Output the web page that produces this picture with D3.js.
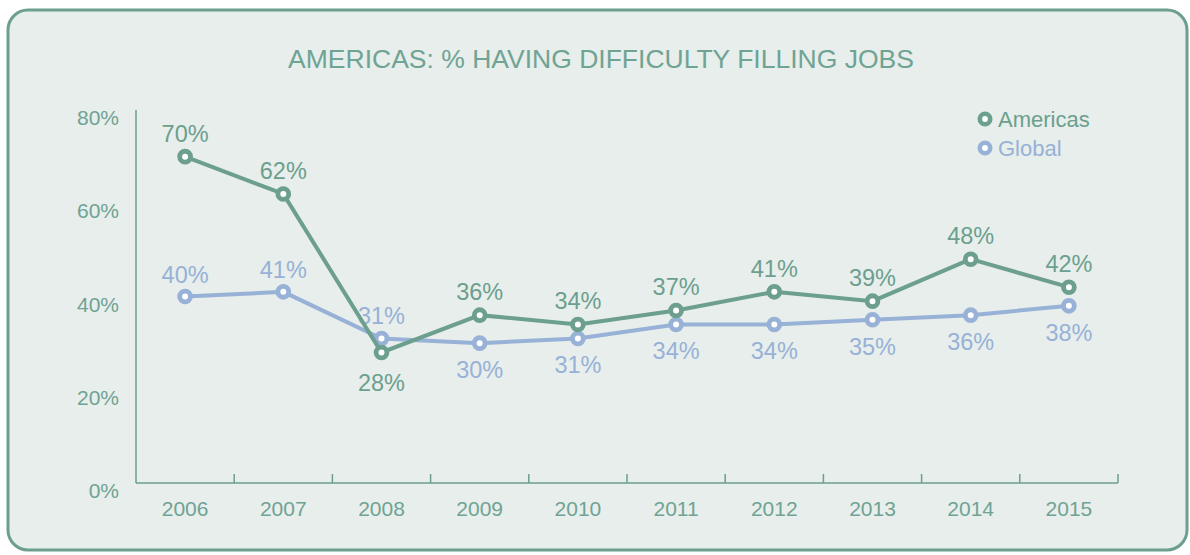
<!DOCTYPE html>
<html>
<head>
<meta charset="utf-8">
<script src="https://cdnjs.cloudflare.com/ajax/libs/d3/7.8.5/d3.min.js"></script>
<style>
  body { margin: 0; background: #ffffff; }
  svg { display: block; font-family: "Liberation Sans", Arial, sans-serif; }
</style>
</head>
<body>
<svg width="1190" height="555"></svg>
<script>
const years = ["2006", "2007", "2008", "2009", "2010", "2011", "2012", "2013", "2014", "2015"];
const americas = [70, 62, 28, 36, 34, 37, 41, 39, 48, 42];
const global = [40, 41, 31, 30, 31, 34, 34, 35, 36, 38];
const yTicks = [0, 20, 40, 60, 80];
// which labels sit below the point
const americasBelow = ["2008"];
const globalBelow = ["2009", "2010", "2011", "2012", "2013", "2014", "2015"];

const green = "#6c9f8e";
const blue = "#97b1d7";
const textGreen = "#6fa394";

const svg = d3.select("svg");
const width = 1190;
const height = 555;

const margin = { top: 110, right: 72, bottom: 72, left: 136 };

// panel
svg.append("rect")
    .attr("x", 8)
    .attr("y", 10)
    .attr("width", 1179)
    .attr("height", 540)
    .attr("rx", 20)
    .attr("fill", "#e7eeeb")
    .attr("stroke", green)
    .attr("stroke-width", 3);

svg.append("text")
    .attr("x", 601)
    .attr("y", 68)
    .attr("text-anchor", "middle")
    .attr("fill", textGreen)
    .style("font-size", "26.5px")
    .text("AMERICAS: % HAVING DIFFICULTY FILLING JOBS");

const xScale = d3.scaleBand()
    .domain(years)
    .range([margin.left, width - margin.right]);

const yScale = d3.scaleLinear()
    .domain([0, 80])
    .range([height - margin.bottom, margin.top]);

const cx = d => xScale(d) + xScale.bandwidth() / 2;

// x axis: line, upward ticks at band boundaries
const xAxis = svg.append("g")
    .attr("transform", `translate(0, ${yScale(0)})`);

xAxis.append("line")
    .attr("x1", margin.left)
    .attr("x2", width - margin.right)
    .attr("stroke", green)
    .attr("stroke-width", 1.5);

xAxis.selectAll(".tick")
    .data(years.slice(1).concat(["end"]))
    .join("line")
    .attr("x1", d => d === "end" ? width - margin.right : xScale(d))
    .attr("x2", d => d === "end" ? width - margin.right : xScale(d))
    .attr("y1", 0)
    .attr("y2", -9)
    .attr("stroke", green)
    .attr("stroke-width", 1.5);

xAxis.selectAll(".year")
    .data(years)
    .join("text")
    .attr("x", d => cx(d))
    .attr("y", 33)
    .attr("text-anchor", "middle")
    .attr("fill", textGreen)
    .style("font-size", "21px")
    .text(d => d);

// y axis: line and labels
svg.append("line")
    .attr("x1", margin.left)
    .attr("x2", margin.left)
    .attr("y1", yScale(80))
    .attr("y2", yScale(0))
    .attr("stroke", green)
    .attr("stroke-width", 1.5);

svg.selectAll(".ylab")
    .data(yTicks)
    .join("text")
    .attr("x", 119)
    .attr("y", d => yScale(d) + 15)
    .attr("text-anchor", "end")
    .attr("fill", textGreen)
    .style("font-size", "21px")
    .text(d => d + "%");

function drawSeries(values, color, below, dyAbove, dyBelow) {
    const line = d3.line()
        .x((d, i) => cx(years[i]))
        .y(d => yScale(d));

    svg.append("path")
        .datum(values)
        .attr("d", line)
        .attr("fill", "none")
        .attr("stroke", color)
        .attr("stroke-width", 4);

    svg.append("g")
        .selectAll("circle")
        .data(values)
        .join("circle")
        .attr("cx", (d, i) => cx(years[i]))
        .attr("cy", d => yScale(d))
        .attr("r", 5.4)
        .attr("fill", "#ffffff")
        .attr("stroke", color)
        .attr("stroke-width", 4.8);

    svg.append("g")
        .selectAll("text")
        .data(values)
        .join("text")
        .attr("x", (d, i) => cx(years[i]))
        .attr("y", (d, i) => below.includes(years[i]) ? yScale(d) + dyBelow : yScale(d) + dyAbove)
        .attr("text-anchor", "middle")
        .attr("fill", color)
        .style("font-size", "23.5px")
        .text(d => d + "%");
}

drawSeries(global, blue, globalBelow, -14, 35);
drawSeries(americas, green, americasBelow, -15, 39);

// legend
const legend = svg.append("g").attr("transform", "translate(985, 119)");
[["Americas", green], ["Global", blue]].forEach(([name, color], i) => {
    legend.append("circle")
        .attr("cx", 0)
        .attr("cy", i * 29)
        .attr("r", 5.2)
        .attr("fill", "#ffffff")
        .attr("stroke", color)
        .attr("stroke-width", 4.6);
    legend.append("text")
        .attr("x", 13)
        .attr("y", i * 29 + 8)
        .attr("fill", color)
        .style("font-size", "22px")
        .text(name);
});
</script>
</body>
</html>
